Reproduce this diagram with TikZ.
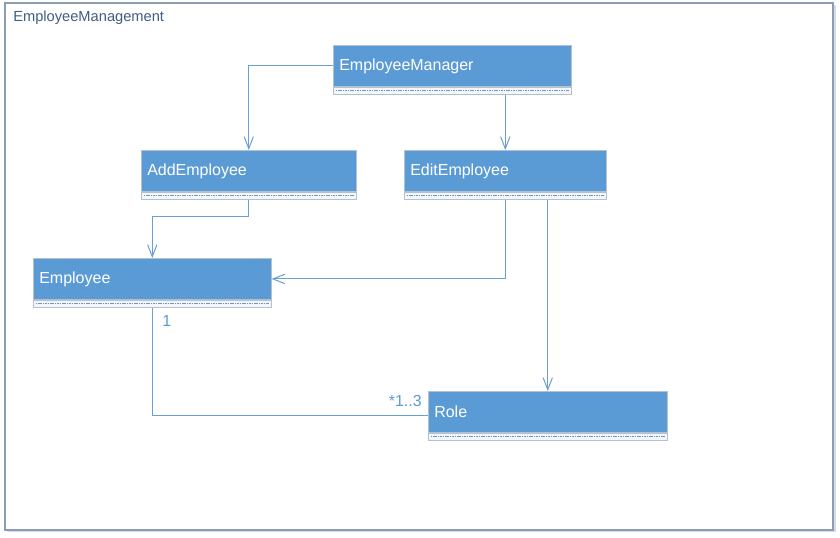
\documentclass[tikz,border=0pt]{standalone}
\usepackage{fontspec}
\setmainfont{Liberation Sans}
\usepackage{xcolor}
\definecolor{colorClass}{HTML}{5B9BD5}
\definecolor{colorLink}{HTML}{6A9FD6}
\definecolor{colorFrame}{HTML}{8A9DB2}
\definecolor{colorShadow}{HTML}{D5DCE4}
\definecolor{colorTitle}{HTML}{3F5E80}
\definecolor{colorOps}{HTML}{F3F6FA}
\definecolor{colorEdge}{HTML}{B4C0CC}
\definecolor{colorDash}{HTML}{6F97C2}
\usepackage{tikz}
\usetikzlibrary{arrows.meta, positioning, calc}
\tikzset{
  classhead/.style={draw=colorEdge, fill=colorClass, text=white, anchor=north west, align=left,
    inner sep=4.5pt, minimum height=31pt, font=\fontsize{12}{14}\selectfont},
  classops/.style={draw=colorEdge, fill=colorOps, minimum height=5.5pt, inner sep=0pt},
  opsline/.style={colorDash, line width=0.7pt, dash pattern=on 1.2pt off 0.6pt},
  link/.style={colorLink, line width=0.75pt},
  mult/.style={text=colorClass, inner sep=0pt, font=\fontsize{12}{14}\selectfont}
}

\begin{document}
\begin{tikzpicture}[x=0.75pt, y=-0.75pt, >={Straight Barb[length=9pt,width=7pt]}]
\useasboundingbox (0,0) rectangle (840,537);
% package frame
\draw[colorShadow, line width=1pt] (7,531) -- (835,531) -- (835,5);
\draw[colorFrame, line width=0.9pt] (5,3) rectangle (833,530);
\node[anchor=west, inner sep=0pt, text=colorTitle, font=\fontsize{11}{13}\selectfont] (title) at (13,18) {EmployeeManagement};

% classes
\node[classhead, text width=169.5pt] (EmployeeManager) at (333,45) {EmployeeManager};
\node[classops, minimum width=178.5pt, below=0pt of EmployeeManager] (EmployeeManagerOps) {};
\draw[opsline] ([xshift=2pt]EmployeeManagerOps.west) -- ([xshift=-2pt]EmployeeManagerOps.east);

\node[classhead, text width=152.25pt] (AddEmployee) at (141,150) {AddEmployee};
\node[classops, minimum width=161.25pt, below=0pt of AddEmployee] (AddEmployeeOps) {};
\draw[opsline] ([xshift=2pt]AddEmployeeOps.west) -- ([xshift=-2pt]AddEmployeeOps.east);

\node[classhead, text width=142.5pt] (EditEmployee) at (404,150) {EditEmployee};
\node[classops, minimum width=151.5pt, below=0pt of EditEmployee] (EditEmployeeOps) {};
\draw[opsline] ([xshift=2pt]EditEmployeeOps.west) -- ([xshift=-2pt]EditEmployeeOps.east);

\node[classhead, text width=169.5pt] (Employee) at (33,258) {Employee};
\node[classops, minimum width=178.5pt, below=0pt of Employee] (EmployeeOps) {};
\draw[opsline] ([xshift=2pt]EmployeeOps.west) -- ([xshift=-2pt]EmployeeOps.east);

\node[classhead, text width=170.25pt] (Role) at (428,391) {Role};
\node[classops, minimum width=179.25pt, below=0pt of Role] (RoleOps) {};
\draw[opsline] ([xshift=2pt]RoleOps.west) -- ([xshift=-2pt]RoleOps.east);

% connectors
\draw[->, link] (EmployeeManager.west) -| (AddEmployee.north);
\draw[->, link] (EmployeeManagerOps.south -| EditEmployee.north) -- (EditEmployee.north);
\draw[->, link] (AddEmployeeOps.south) -- ++(0,17) -| (Employee.north);
\draw[->, link] (EditEmployeeOps.south) |- (Employee.east);
\draw[->, link] (EditEmployeeOps.south -| Role.north) -- (Role.north);
\draw[link] (EmployeeOps.south) |- ([yshift=-3pt]Role.west);
\node[mult, anchor=west] (employeeEnd) at (162,321) {1};
\node[mult, anchor=east] (roleEnd) at (422,401) {*1..3};
\end{tikzpicture}
\end{document}
